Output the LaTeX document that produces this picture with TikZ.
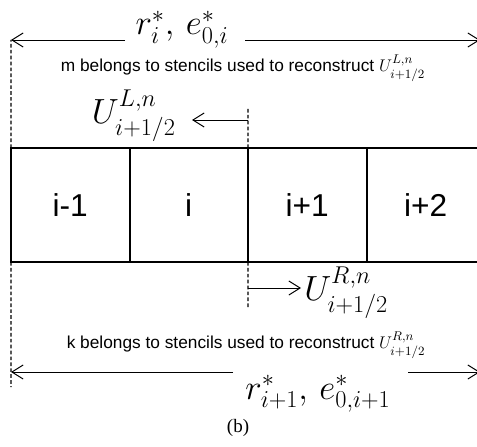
\documentclass[tikz,border=0pt]{standalone}
\usepackage{amsmath}
\usepackage[no-math]{fontspec}
\setmainfont{Liberation Serif}
\setsansfont{Liberation Sans}
\usetikzlibrary{arrows.meta}

\begin{document}
\begin{tikzpicture}[x=0.025cm, y=-0.025cm,
  cell/.style={draw, line width=1.4pt, inner sep=0pt, outer sep=0pt,
               minimum width=2.9625cm, minimum height=2.85cm,
               font=\sffamily\fontsize{22.5}{27}\selectfont},
  arr/.style={-{Straight Barb[length=8pt, width=10pt]}, line width=0.7pt},
  guide/.style={dash pattern=on 2.6pt off 1.6pt, line width=0.9pt},
  note/.style={font=\sffamily\fontsize{12.3}{14}\selectfont, inner sep=0pt},
  big/.style={font=\fontsize{24}{28}\selectfont, inner sep=0pt},
]
\useasboundingbox (0,0) rectangle (477,446);
\clip (0,0) rectangle (477,446);
% Cells
\node[cell] at (70.25,205)  (c1) {i-1};
\node[cell] at (188.75,205) (c2) {i};
\node[cell] at (307.25,205) (c3) {i+1};
\node[cell] at (425.75,205) (c4) {i+2};
% Guide ends and arrow ends
\coordinate (tl) at (11,40);   \coordinate (tr) at (480,40);
\coordinate (ta) at (125,40);  \coordinate (tb) at (245,40);
\coordinate (bl) at (11,372);  \coordinate (br) at (480,372);
\coordinate (ba) at (233,372); \coordinate (bb) at (408,372);
\coordinate (gl) at (11,387);
\coordinate (ut) at (248,107); \coordinate (ud) at (248,307);
\coordinate (ua) at (192,120); \coordinate (ub) at (301,288);
% Labels
\node[big, anchor=base] at (182,35)  (rtop) {$r_i^*,\, e_{0,i}^*$};
\node[note]   at (243,68)  (mtxt) {m belongs to stencils used to reconstruct $U_{i+1/2}^{L,n}$};
\node[big, anchor=east] at (176,116) (ul) {$U_{i+1/2}^{L,n}$};
\node[big, anchor=west] at (304,293) (ur) {$U_{i+1/2}^{R,n}$};
\node[note]   at (246,345) (ktxt) {k belongs to stencils used to reconstruct $U_{i+1/2}^{R,n}$};
\node[big, anchor=base] at (318,399) (rbot) {$r_{i+1}^*,\, e_{0,i+1}^*$};
\node[font=\fontsize{13.5}{16}\selectfont, inner sep=0pt] at (238,428) (cap) {(b)};
% Dashed guides
\draw[guide] (c1.north west) -- (tl);
\draw[guide] (c1.south west) -- (gl);
\draw[guide] (c3.north west) -- (ut);
\draw[guide] (c3.south west) -- (ud);
% Arrows
\draw[arr] (ta) -- (tl);  \draw[arr] (tb) -- (tr);
\draw[arr] (ba) -- (bl);  \draw[arr] (bb) -- (br);
\draw[arr] (c3.north west |- ua) -- (ua);
\draw[arr] (c3.south west |- ub) -- (ub);
\end{tikzpicture}
\end{document}
